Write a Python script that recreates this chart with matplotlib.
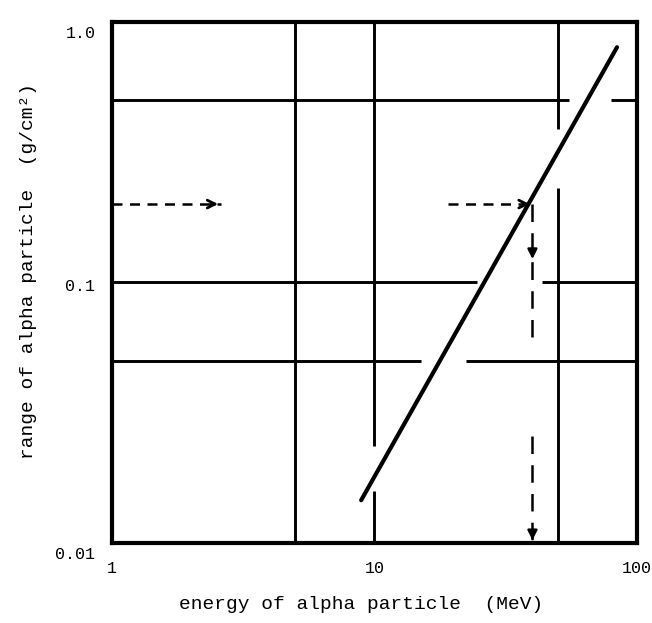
import matplotlib
matplotlib.use("Agg")
from matplotlib import pyplot as plt
from matplotlib.transforms import ScaledTranslation

# range-energy line for alpha particles (log-log)
energy = [8.9, 84]
alpha_range = [0.0146, 0.80]

x_ticks = [1, 10, 100]
x_tick_labels = ["1", "10", "100"]
y_ticks = [0.01, 0.1, 1.0]
y_tick_labels = ["0.01", "0.1", "1.0"]

# grid lines drawn as pieces: the original leaves gaps where the line crosses
v_grid = {5: [(0.01, 1.0)],
          10: [(0.01, 0.0159), (0.0236, 1.0)],
          50: [(0.01, 0.23), (0.39, 1.0)]}
h_grid = {0.05: [(1, 15.1), (22.4, 100)],
          0.1: [(1, 24.7), (43.4, 100)],
          0.5: [(1, 55), (80, 100)]}

# worked example: 0.2 g/cm2 -> about 40 MeV
read_range = 0.2
read_energy = 40
first_arrow_x = [1, 2.6]
second_arrow_x = [19, read_energy]
down_pieces = [(read_range, 0.12), (0.12, 0.062), (0.0258, 0.01)]

mono = "Liberation Mono"

fig = plt.figure(figsize=(6.52, 6.23), dpi=100)
ax = fig.add_axes([0.1718, 0.1284, 0.805, 0.8363])
ax.set_xscale("log")
ax.set_yscale("log")
ax.set_xlim(1, 100)
ax.set_ylim(0.01, 1.0)

for x, pieces in v_grid.items():
    for y0, y1 in pieces:
        ax.plot([x, x], [y0, y1], color="black", lw=2.1, solid_capstyle="butt")
for y, pieces in h_grid.items():
    for x0, x1 in pieces:
        ax.plot([x0, x1], [y, y], color="black", lw=2.1, solid_capstyle="butt")

ax.plot(energy, alpha_range, color="black", lw=3.0, solid_capstyle="round")

# dashed read-off arrows
dash_h = (0, (4.0, 3.0))
dash_v = (0, (7.0, 4.5))
ax.plot(first_arrow_x, [read_range] * 2, color="black", lw=1.8, ls=dash_h)
ax.annotate("", xy=(first_arrow_x[1], read_range), xytext=(-9, 0),
            textcoords="offset points",
            arrowprops=dict(arrowstyle="->", lw=2.0, color="black", mutation_scale=14))
ax.plot(second_arrow_x, [read_range] * 2, color="black", lw=1.8, ls=dash_h)
ax.annotate("", xy=(second_arrow_x[1], read_range), xytext=(-9, 0),
            textcoords="offset points",
            arrowprops=dict(arrowstyle="->", lw=2.0, color="black", mutation_scale=14))
for i, (y0, y1) in enumerate(down_pieces):
    ax.plot([read_energy] * 2, [y0, y1], color="black", lw=1.8, ls=dash_v)
    if i != 1:
        ax.annotate("", xy=(read_energy, y1), xytext=(0, 10),
                    textcoords="offset points",
                    arrowprops=dict(arrowstyle="-|>", lw=1.8, color="black",
                                    mutation_scale=14))

for s in ax.spines.values():
    s.set_linewidth(3.0)

ax.set_xticks(x_ticks)
ax.set_xticklabels(x_tick_labels, family=mono, fontsize=12)
ax.set_yticks(y_ticks)
ax.set_yticklabels(y_tick_labels, family=mono, fontsize=12)
ax.minorticks_off()
ax.tick_params(axis="both", length=0)
ax.tick_params(axis="x", pad=13)
ax.tick_params(axis="y", pad=12)

# the typed labels sit a little below their lines
for lab, drop in zip(ax.get_yticklabels(), [10, 3, 10]):
    lab.set_transform(lab.get_transform() + ScaledTranslation(0, -drop / 100, fig.dpi_scale_trans))

fig.text(0.554, 0.029, "energy of alpha particle  (MeV)", family=mono,
         fontsize=14, ha="center", va="center")
fig.text(0.043, 0.565, "range of alpha particle  (g/cm\u00b2)", family=mono,
         fontsize=14, ha="center", va="center", rotation=90)

fig.savefig("out.png", dpi=100)
